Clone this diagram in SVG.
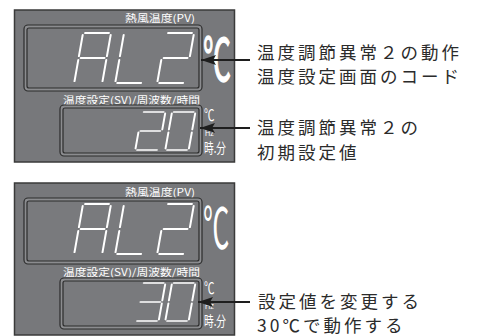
<svg xmlns="http://www.w3.org/2000/svg" xmlns:xlink="http://www.w3.org/1999/xlink" width="481" height="336" viewBox="0 0 481 336">
<style>
.panel{fill:#77787b;stroke:#3a3a3a;stroke-width:1.5}
.wo{fill:#8b8c8f;stroke:#2c2c2c;stroke-width:1.2}
.wi{fill:#797a7d;stroke:#2c2c2c;stroke-width:1.2}
.seg{fill:none;stroke:#fff;stroke-linecap:round;stroke-linejoin:round}
.plab{font-family:"Noto Sans CJK JP","Noto Sans CJK SC",sans-serif;font-size:10px;fill:#fff}
.unit{font-family:"Noto Sans CJK JP","Noto Sans CJK SC",sans-serif;fill:#fff}
.deg{font-family:"Liberation Sans",Arial,sans-serif;fill:#fff}
.desc{font-family:"Noto Sans CJK JP","Noto Sans CJK SC",sans-serif;font-size:17.5px;fill:#2b2b2b;letter-spacing:3px}
.arrow{stroke:#1e1e1e;stroke-width:2;fill:none;marker-end:url(#ah)}
</style>
<defs>
<marker id="ah" viewBox="0 -6 16 12" markerWidth="16" markerHeight="12" refX="15" refY="0" orient="auto" markerUnits="userSpaceOnUse">
<path d="M15,0 L0,-5 L3,0 L0,5 Z" fill="#1e1e1e"/>
</marker>
<path id="dA" class="seg" d="M1.5,0H18.5M20,1.5V18.5M20,21.5V38.5M0,21.5V38.5M0,1.5V18.5M1.5,20H18.5"/>
<path id="dL" class="seg" d="M0,1.5V18.5M0,21.5V38.5M1.5,40H18.5"/>
<path id="d2" class="seg" d="M1.5,0H18.5M20,1.5V18.5M1.5,20H18.5M0,21.5V38.5M1.5,40H18.5"/>
<path id="d0" class="seg" d="M1.5,0H18.5M20,1.5V18.5M20,21.5V38.5M1.5,40H18.5M0,21.5V38.5M0,1.5V18.5"/>
<path id="d3" class="seg" d="M1.5,0H18.5M20,1.5V18.5M1.5,20H18.5M20,21.5V38.5M1.5,40H18.5"/>
</defs>

<g id="panel-1">
<rect class="panel" x="14.5" y="10" width="220" height="152"/>
<text class="plab" x="125" y="22" textLength="70" lengthAdjust="spacingAndGlyphs">熱風温度(PV)</text>
<rect class="wo" x="24" y="25" width="178" height="66" rx="4"/>
<rect class="wi" x="27" y="28" width="172" height="60" rx="2"/>
<g stroke-width="1.45">
<use href="#dA" transform="translate(83,33) skewX(-10) scale(1.4,1.25)"/>
<use href="#dL" transform="translate(124,33) skewX(-10) scale(1.4,1.25)"/>
<use href="#d2" transform="translate(166,33) skewX(-10) scale(1.4,1.25)"/>
</g>
<text class="unit" font-size="40" stroke="#fff" stroke-width="1" transform="translate(203,81) scale(0.7,1.45)">℃</text>
<text class="plab" x="63" y="103.5" textLength="137" lengthAdjust="spacingAndGlyphs">温度設定(SV)/周波数/時間</text>
<rect class="wo" x="60" y="105" width="142" height="51" rx="4"/>
<rect class="wi" x="63" y="108" width="136" height="45" rx="2"/>
<g stroke-width="1.7">
<use href="#d2" transform="translate(142,112) skewX(-10) scale(1.17,0.95)"/>
<use href="#d0" transform="translate(172,112) skewX(-10) scale(1.17,0.95)"/>
</g>
<text class="unit" font-size="14" transform="translate(204,121) scale(0.75,1.15)">℃</text>
<text class="deg" font-size="9" transform="translate(205,136) scale(0.8,1)">Hz</text>
<text class="unit" font-size="14" x="204" y="153" textLength="22" lengthAdjust="spacingAndGlyphs">時.分</text>
</g>

<g id="panel-2" transform="translate(0,173)">
<rect class="panel" x="14.5" y="10" width="220" height="152"/>
<text class="plab" x="125" y="22.5" textLength="70" lengthAdjust="spacingAndGlyphs">熱風温度(PV)</text>
<rect class="wo" x="24" y="25" width="178" height="66" rx="4"/>
<rect class="wi" x="27" y="28" width="172" height="60" rx="2"/>
<g stroke-width="1.45">
<use href="#dA" transform="translate(83,31) skewX(-10) scale(1.4,1.25)"/>
<use href="#dL" transform="translate(124,31) skewX(-10) scale(1.4,1.25)"/>
<use href="#d2" transform="translate(166,31) skewX(-10) scale(1.4,1.25)"/>
</g>
<text class="unit" font-size="40" transform="translate(203,75) scale(0.66,1.38)">℃</text>
<text class="plab" x="63" y="103" textLength="137" lengthAdjust="spacingAndGlyphs">温度設定(SV)/周波数/時間</text>
<rect class="wo" x="60" y="105" width="142" height="51" rx="4"/>
<rect class="wi" x="63" y="108" width="136" height="45" rx="2"/>
<g stroke-width="1.7">
<use href="#d3" transform="translate(142,110) skewX(-10) scale(1.17,0.95)"/>
<use href="#d0" transform="translate(172,110) skewX(-10) scale(1.17,0.95)"/>
</g>
<text class="unit" font-size="14" transform="translate(204,121) scale(0.75,1.15)">℃</text>
<text class="deg" font-size="9" transform="translate(205,136) scale(0.8,1)">Hz</text>
<text class="unit" font-size="14" x="204" y="153" textLength="22" lengthAdjust="spacingAndGlyphs">時.分</text>
</g>

<g id="connectors">
<path class="arrow" d="M250,60 H201"/>
<path class="arrow" d="M250,128 H200"/>
<path class="arrow" d="M250,302 H198"/>
</g>

<g id="label-1">
<text class="desc" x="257" y="58.5">温度調節異常２の動作</text>
<text class="desc" x="257" y="83">温度設定画面のコード</text>
</g>
<g id="label-2">
<text class="desc" x="257" y="133.5">温度調節異常２の</text>
<text class="desc" x="257" y="158.5">初期設定値</text>
</g>
<g id="label-3">
<text class="desc" x="258" y="308">設定値を変更する</text>
<text class="desc" x="257" y="332">30℃で動作する</text>
</g>
</svg>
